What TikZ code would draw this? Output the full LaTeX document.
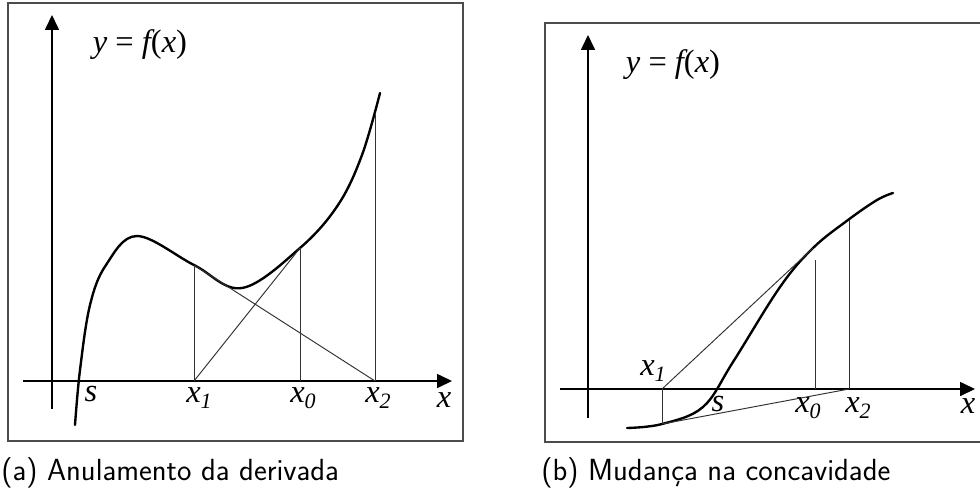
\documentclass[tikz,border=0pt]{standalone}
\usepackage{fontspec}
\usetikzlibrary{arrows.meta}
\setmainfont{Liberation Serif}
\newcommand{\lblsize}{\fontsize{18.5}{20}\selectfont}
\newcommand{\subsz}{\fontsize{12.5}{14}\selectfont}
\newcommand{\xsub}[1]{x\raisebox{-0.45ex}{\subsz #1}}
\tikzset{
  fgbox/.style  ={draw=black!70,line width=0.7pt},
  axis/.style   ={line width=0.7pt,-{Triangle[length=8.5pt,width=8pt]}},
  crv/.style    ={line width=1.35pt,line cap=round,line join=round},
  guide/.style  ={draw=black!80,line width=0.55pt},
  lbl/.style    ={inner sep=0pt,font=\rmfamily\itshape\lblsize},
  capt/.style   ={inner sep=0pt,font=\sffamily\fontsize{17.4}{19}\selectfont},
}

\begin{document}
\begin{tikzpicture}[x=0.02cm,y=-0.02cm]
  \useasboundingbox (0,0) rectangle (980,488);
  % (a) Anulamento da derivada
  \draw[fgbox] (8,3) rectangle (463,441);
  \coordinate (aYb) at (52,409);  \coordinate (aYt) at (52,15);
  \coordinate (aXl) at (23,381);  \coordinate (aXr) at (452,381);
  \draw[axis] (aYb) -- (aYt);
  \draw[axis] (aXl) -- (aXr);
  \draw[crv] plot[smooth,tension=0.6] coordinates {(75,425) (80,370) (90,305) (106,265) (137,236) (194,265) (242,288) (300,248) (338,205) (362,155) (380,93)};
  \coordinate (aP1) at (194,265); \coordinate (aA1) at (194,381);
  \coordinate (aP0) at (300,248); \coordinate (aA0) at (300,381);
  \coordinate (aP2) at (375,113); \coordinate (aA2) at (375,381);
  \draw[guide] (aA1) -- (aP1);
  \draw[guide] (aA0) -- (aP0);
  \draw[guide] (aA2) -- (aP2);
  \draw[guide] (aP1) -- (aA2);
  \draw[guide] (aP0) -- (aA1);
  \node[lbl] (aF)  at (140,45)  {y {\upshape=} f{\upshape(}x{\upshape)}};
  \node[lbl] (aS)  at (91,394)  {s};
  \node[lbl] (aL1) at (199,398) {\xsub{1}};
  \node[lbl] (aL0) at (303,398) {\xsub{0}};
  \node[lbl] (aL2) at (378,398) {\xsub{2}};
  \node[lbl] (aLx) at (444,400) {x};
  \node[capt,anchor=base west] (capA) at (1,480) {(a) Anulamento da derivada};
  % (b) Mudanca na concavidade
  \draw[fgbox] (545,23) rectangle (990,442);
  \coordinate (bYb) at (588,418); \coordinate (bYt) at (588,35);
  \coordinate (bXl) at (560,389); \coordinate (bXr) at (975,389);
  \draw[axis] (bYb) -- (bYt);
  \draw[axis] (bXl) -- (bXr);
  \draw[crv] plot[smooth,tension=0.6] coordinates {(627,428) (662,424) (703,407) (733,362) (780,287) (813,248) (848,220) (877,200) (893,193)};
  \coordinate (bP1) at (662,424); \coordinate (bA1) at (662,389);
  \coordinate (bP0) at (813,248); \coordinate (bT0) at (815,260); \coordinate (bA0) at (815,389);
  \coordinate (bP2) at (849,220); \coordinate (bA2) at (849,389);
  \draw[guide] (bA1) -- (bP1);
  \draw[guide] (bA1) -- (bP0);
  \draw[guide] (bP1) -- (bA2);
  \draw[guide] (bA0) -- (bT0);
  \draw[guide] (bA2) -- (bP2);
  \node[lbl] (bF)  at (673,65)  {y {\upshape=} f{\upshape(}x{\upshape)}};
  \node[lbl] (bL1) at (653,371) {\xsub{1}};
  \node[lbl] (bS)  at (718,404) {s};
  \node[lbl] (bL0) at (808,408) {\xsub{0}};
  \node[lbl] (bL2) at (858,408) {\xsub{2}};
  \node[lbl] (bLx) at (968,406) {x};
  \node[capt,anchor=base west] (capB) at (541,480) {(b) Mudança na concavidade};
\end{tikzpicture}
\end{document}
